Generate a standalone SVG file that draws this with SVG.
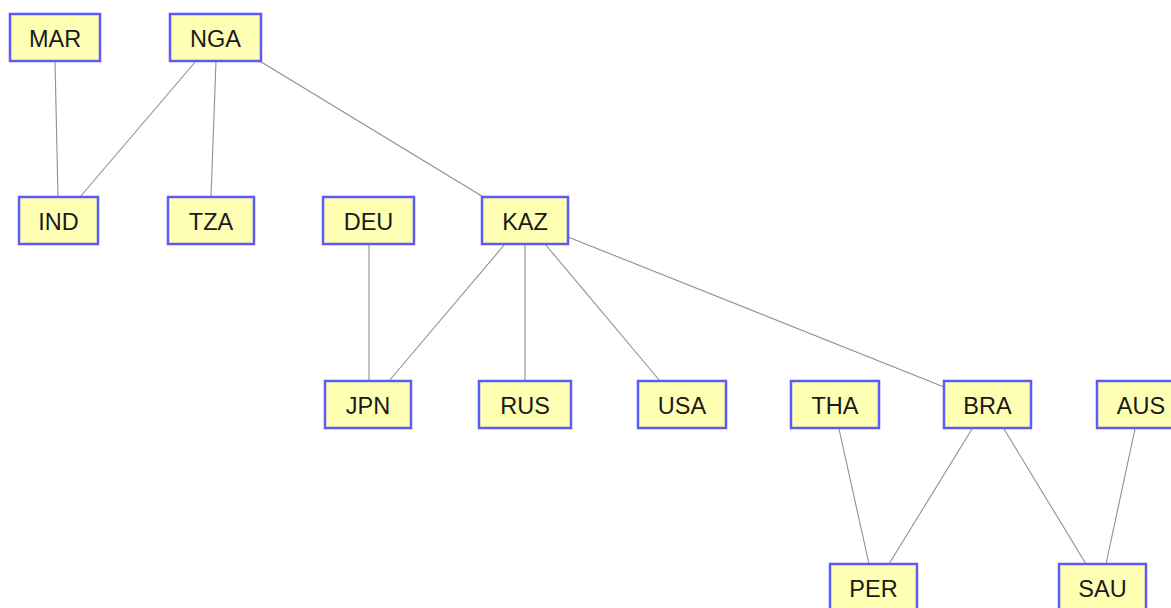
<svg xmlns="http://www.w3.org/2000/svg" width="1171" height="608" viewBox="0 0 1171 608">
<defs>
<style>
.n rect{fill:#ffffb3;stroke:#5b5bf5;stroke-width:2.5}
.n text{font-family:"Liberation Sans",Arial,sans-serif;font-size:23.5px;fill:#1a1a1a;text-anchor:middle}
.e line{stroke:#8f8f8f;stroke-width:1.1}
</style>
</defs>
<rect width="1171" height="608" fill="#fff"/>
<g class="e">
<line x1="55" y1="61" x2="58" y2="197"/>
<line x1="196" y1="61" x2="80" y2="197"/>
<line x1="216" y1="61" x2="211" y2="197"/>
<line x1="258" y1="60" x2="485" y2="198"/>
<line x1="369" y1="244" x2="369" y2="381"/>
<line x1="505" y1="244" x2="389" y2="381"/>
<line x1="525" y1="244" x2="525" y2="381"/>
<line x1="545" y1="244" x2="660" y2="381"/>
<line x1="568" y1="237" x2="944" y2="387"/>
<line x1="839" y1="429" x2="869" y2="564"/>
<line x1="972" y1="429" x2="889" y2="564"/>
<line x1="1004" y1="429" x2="1086" y2="564"/>
<line x1="1135" y1="429" x2="1106" y2="564"/>
</g>
<g id="MAR" class="n"><rect x="10" y="14" width="90" height="47"/><text x="55" y="47">MAR</text></g>
<g id="NGA" class="n"><rect x="170" y="14" width="91" height="47"/><text x="215.5" y="47">NGA</text></g>
<g id="IND" class="n"><rect x="19" y="197" width="79" height="47"/><text x="58.5" y="230">IND</text></g>
<g id="TZA" class="n"><rect x="168" y="197" width="86" height="47"/><text x="211" y="230">TZA</text></g>
<g id="DEU" class="n"><rect x="323" y="197" width="91" height="47"/><text x="368.5" y="230">DEU</text></g>
<g id="KAZ" class="n"><rect x="482" y="197" width="86" height="47"/><text x="525" y="230">KAZ</text></g>
<g id="JPN" class="n"><rect x="325" y="381" width="86" height="47"/><text x="368" y="414">JPN</text></g>
<g id="RUS" class="n"><rect x="479" y="381" width="92" height="47"/><text x="525" y="414">RUS</text></g>
<g id="USA" class="n"><rect x="638" y="381" width="88" height="47"/><text x="682" y="414">USA</text></g>
<g id="THA" class="n"><rect x="791" y="381" width="88" height="47"/><text x="835" y="414">THA</text></g>
<g id="BRA" class="n"><rect x="944" y="381" width="87" height="47"/><text x="987.5" y="414">BRA</text></g>
<g id="AUS" class="n"><rect x="1097" y="381" width="88" height="47"/><text x="1141" y="414">AUS</text></g>
<g id="PER" class="n"><rect x="830" y="564" width="87" height="47"/><text x="873.5" y="597">PER</text></g>
<g id="SAU" class="n"><rect x="1059" y="564" width="87" height="47"/><text x="1102.5" y="597">SAU</text></g>
</svg>
